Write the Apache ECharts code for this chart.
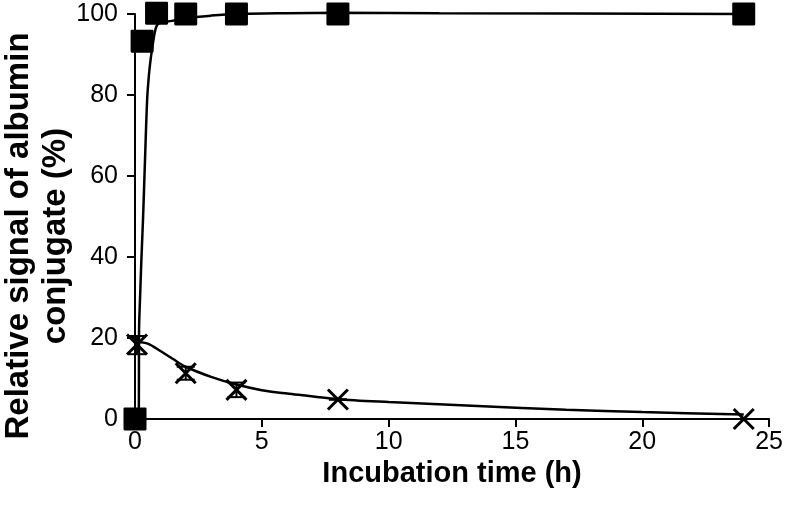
<!DOCTYPE html>
<html>
<head>
<meta charset="utf-8">
<script src="https://cdn.jsdelivr.net/npm/echarts@6/dist/echarts.min.js"></script>
<style>html,body{margin:0;padding:0;background:#fff}#c{width:786px;height:513px}</style>
</head>
<body>
<div id="c"></div>
<script>
// Measured points (square markers)
var squareTimes = [0, 0.28, 0.85, 2, 4, 8, 24];
var squareValues = [0, 93.3, 100.2, 100, 100, 100, 100];
// Measured points (cross markers)
var crossTimes = [0.08, 2, 4, 8, 24];
var crossValues = [18.4, 11.3, 7.2, 4.8, 0];
var crossErrLow = [16, 9.7, 5.4, 4.8, 0];
var crossErrHigh = [20.5, 12.9, 9.0, 4.8, 0];
// Fitted curve through squares
var fitSquareT = [0.15, 0.155, 0.16, 0.2, 0.25, 0.32, 0.4, 0.48, 0.55, 0.62, 0.7, 0.78, 0.85, 0.95, 1.1, 1.45, 2, 3, 4, 6, 8, 12, 24];
var fitSquareV = [0, 10, 22, 30, 39, 50, 65, 79, 85, 89, 92.5, 95.5, 97, 97.7, 98, 98.3, 99, 99.6, 100, 100.2, 100.3, 100.2, 100];
// Fitted curve through crosses
var fitCrossT = [0.08, 0.5, 1, 1.5, 2, 3, 4, 5, 6, 8, 10, 13.5, 17, 20, 24];
var fitCrossV = [19, 18.6, 16.8, 14.8, 12.9, 10.4, 8.5, 7.1, 6.3, 4.9, 4.2, 3.2, 2.3, 1.7, 1.1];
// Axis ticks
var xTicks = [0, 5, 10, 15, 20, 25];
var yTicks = [0, 20, 40, 60, 80, 100];

function zip(a, b) { return a.map(function (v, i) { return [v, b[i]]; }); }

var chart = echarts.init(document.getElementById('c'));
var FONT = 'Liberation Sans, Arial, sans-serif';
chart.setOption({
  animation: false,
  backgroundColor: '#fff',
  grid: { left: 135, right: 15, top: 14, bottom: 94 },
  xAxis: {
    type: 'value', min: xTicks[0], max: xTicks[xTicks.length - 1], interval: 5,
    name: 'Incubation time (h)', nameLocation: 'middle', nameGap: 32,
    nameTextStyle: { fontFamily: FONT, fontSize: 29, fontWeight: 'bold', color: '#000' },
    axisLine: { lineStyle: { color: '#000', width: 2 } },
    axisTick: { show: true, inside: false, length: 8, lineStyle: { color: '#000', width: 2 } },
    axisLabel: { fontFamily: FONT, fontSize: 25, color: '#000', margin: 11 },
    splitLine: { show: false }
  },
  yAxis: {
    type: 'value', min: yTicks[0], max: yTicks[yTicks.length - 1], interval: 20,
    axisLine: { show: true, lineStyle: { color: '#000', width: 2 } },
    axisTick: { show: true, inside: false, length: 8, lineStyle: { color: '#000', width: 2 } },
    axisLabel: { fontFamily: FONT, fontSize: 25, color: '#000', margin: 17 },
    splitLine: { show: false }
  },
  graphic: [{
    type: 'text', x: 37, y: 236, rotation: Math.PI / 2,
    style: {
      text: 'Relative signal of albumin\nconjugate (%)',
      font: 'bold 33px ' + FONT, fill: '#000',
      textAlign: 'center', textVerticalAlign: 'middle', lineHeight: 37
    }
  }],
  series: [
    {
      type: 'line', data: zip(fitSquareT, fitSquareV), showSymbol: false, smooth: 0.3,
      lineStyle: { color: '#000', width: 2.5 }, z: 2, clip: false
    },
    {
      type: 'line', data: zip(fitCrossT, fitCrossV), showSymbol: false, smooth: 0.3,
      lineStyle: { color: '#000', width: 2.5 }, z: 2, clip: false
    },
    {
      type: 'custom', z: 3, clip: false,
      data: crossTimes.map(function (t, i) { return [t, crossErrLow[i], crossErrHigh[i]]; }),
      renderItem: function (params, api) {
        var lo = api.coord([api.value(0), api.value(1)]);
        var hi = api.coord([api.value(0), api.value(2)]);
        var hw = 9;
        var st = { stroke: '#000', lineWidth: 2 };
        return {
          type: 'group', children: [
            { type: 'line', shape: { x1: lo[0], y1: lo[1], x2: hi[0], y2: hi[1] }, style: st },
            { type: 'line', shape: { x1: lo[0] - hw, y1: lo[1], x2: lo[0] + hw, y2: lo[1] }, style: st },
            { type: 'line', shape: { x1: hi[0] - hw, y1: hi[1], x2: hi[0] + hw, y2: hi[1] }, style: st }
          ]
        };
      }
    },
    {
      type: 'scatter', data: zip(crossTimes, crossValues), z: 4, clip: false,
      symbol: 'path://M0,0L10,10M10,0L0,10', symbolSize: 20,
      itemStyle: { color: 'rgba(0,0,0,0)', borderColor: '#000', borderWidth: 3, opacity: 1 }
    },
    {
      type: 'scatter', data: zip(squareTimes, squareValues), z: 5, clip: false,
      symbol: 'path://M1,0H19Q20,0 20,1V19Q20,20 19,20H1Q0,20 0,19V1Q0,0 1,0Z', symbolSize: 23,
      itemStyle: { color: '#000', opacity: 1 }
    }
  ]
});
</script>
</body>
</html>
